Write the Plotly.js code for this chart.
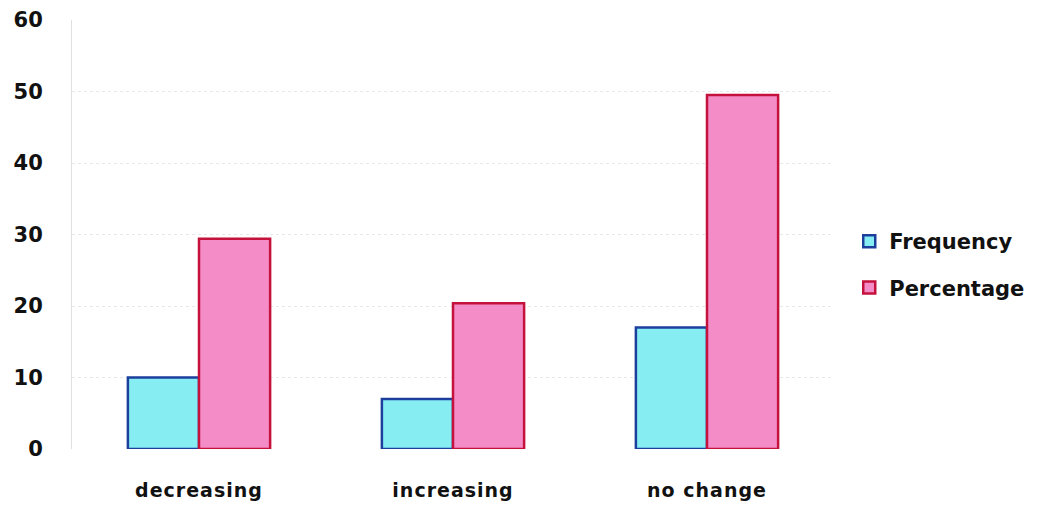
<!DOCTYPE html>
<html>
<head>
<meta charset="utf-8">
<script src="https://cdn.plot.ly/plotly-3.0.1.min.js"></script>
<style>
html,body{margin:0;padding:0;background:#fff;}
#chart .xtick text{letter-spacing:1px;}
</style>
</head>
<body>
<div id="chart" style="width:1064px;height:506px;"></div>
<script>
const categories = ["decreasing", "increasing", "no change"];
const frequency = [10, 7, 17];
const percentage = [29.4, 20.4, 49.5];
const seriesNames = ["Frequency", "Percentage"];
const yTicks = [0, 10, 20, 30, 40, 50, 60];

const traces = [
  {
    type: "bar", name: seriesNames[0], x: categories, y: frequency,
    legendgroup: "a",
    marker: {color: "#86eef2", line: {color: "#1c3f9e", width: 2.5}},
    hoverinfo: "x+y"
  },
  {
    type: "bar", name: seriesNames[1], x: categories, y: percentage,
    legendgroup: "b",
    marker: {color: "#f48cc8", line: {color: "#c4123c", width: 2.5}},
    hoverinfo: "x+y"
  }
];

const layout = {
  width: 1064, height: 506,
  margin: {l: 72, r: 230, t: 20, b: 57},
  paper_bgcolor: "#ffffff", plot_bgcolor: "#ffffff",
  barmode: "group", bargap: 0.44, bargroupgap: 0,
  font: {family: "DejaVu Sans, sans-serif", color: "#111"},
  xaxis: {
    showgrid: false, zeroline: false, showline: false,
    ticks: "", ticklabelstandoff: 28,
    tickfont: {size: 19, color: "#111", family: "DejaVu Sans, sans-serif", weight: "bold"}
  },
  yaxis: {
    range: [0, 60], tickvals: yTicks, ticktext: yTicks.map(String),
    showgrid: true, gridcolor: "#e8e8e8", griddash: "dot", gridwidth: 1,
    zeroline: false, showline: true, linecolor: "#e0e0e0", linewidth: 1,
    ticks: "", ticklabelstandoff: 24,
    tickfont: {size: 21, color: "#111", family: "DejaVu Sans, sans-serif", weight: "bold"}
  },
  showlegend: true,
  legend: {
    x: 1.02, xanchor: "left", y: 0.43, yanchor: "middle",
    tracegroupgap: 16, bgcolor: "rgba(0,0,0,0)",
    font: {size: 21, color: "#111", family: "DejaVu Sans, sans-serif", weight: "bold"}
  }
};

Plotly.newPlot("chart", traces, layout, {displayModeBar: false, staticPlot: true});
</script>
</body>
</html>
